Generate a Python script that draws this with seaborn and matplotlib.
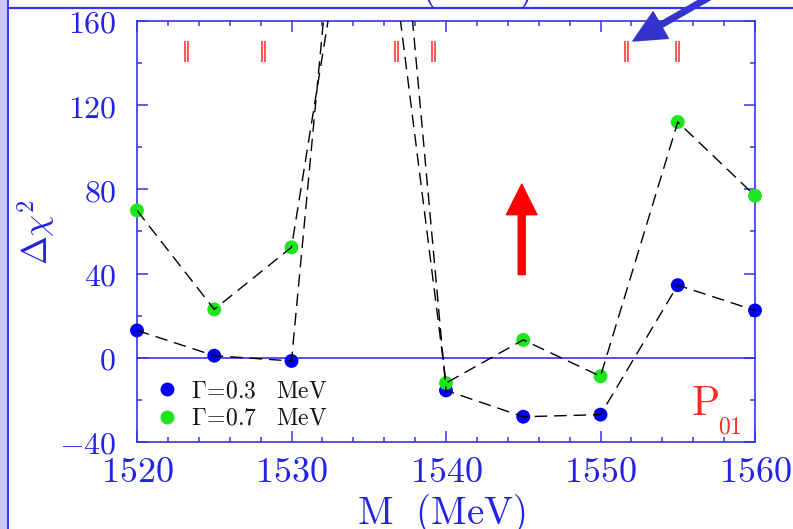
import numpy as np
import pandas as pd
import matplotlib
matplotlib.use("Agg")
import matplotlib.pyplot as plt
import matplotlib.transforms as mtransforms
from matplotlib.patches import FancyArrowPatch, Rectangle
from matplotlib.lines import Line2D
from matplotlib.ticker import MultipleLocator, FuncFormatter
import seaborn as sns

# ---------------- data ----------------
masses = [1520, 1525, 1530, 1535, 1540, 1545, 1550, 1555, 1560]
dchi2_w03 = [13, 1, -1.5, 390, -15.5, -28, -27, 34.5, 22.5]
dchi2_w07 = [70, 23, 52.5, 280, -12, 8.5, -8.8, 112, 77]
series_labels = [r"$\Gamma\!=\!0.3\ \ \ \mathrm{MeV}$", r"$\Gamma\!=\!0.7\ \ \ \mathrm{MeV}$"]
resonance_marks = [1523.2, 1528.2, 1536.8, 1539.2, 1551.7, 1555.0]
x_ticks = [1520, 1530, 1540, 1550, 1560]
y_ticks = [-40, 0, 40, 80, 120, 160]
x_label = r"$\mathrm{M\ \ (MeV)}$"
y_label = r"$\Delta\chi^2$"
wave_label = r"$\mathrm{P}$"
wave_sub = r"$\mathrm{01}$"

df = pd.DataFrame({
    "M": masses * 2,
    "dchi2": dchi2_w03 + dchi2_w07,
    "series": [series_labels[0]] * len(masses) + [series_labels[1]] * len(masses),
})

# ---------------- style ----------------
sns.set_theme(style="white")
plt.rcParams["mathtext.fontset"] = "cm"
plt.rcParams["font.family"] = ["DejaVu Serif"]

BLUE = "#2323e6"
SPINE = "#3434ee"
MBLUE = "#0000f0"
MGREEN = "#1ee61e"
RED = "#ff2a2a"

fig = plt.figure(figsize=(7.93, 5.29), dpi=100)
W, H = 793, 529
ax = fig.add_axes([137 / W, 1 - 442 / H, (755 - 137) / W, (442 - 21) / H])

# markers (below the dashed lines)
sns.scatterplot(data=df, x="M", y="dchi2", hue="series",
                palette={series_labels[0]: MBLUE, series_labels[1]: MGREEN},
                s=100, linewidth=0, ax=ax, zorder=3, clip_on=False)
# dashed connecting lines
for lab in series_labels:
    sns.lineplot(data=df[df["series"] == lab], x="M", y="dchi2", color="black",
                 lw=1.0, linestyle=(0, (9, 5)), ax=ax, zorder=4, legend=False,
                 estimator=None, sort=True)

ax.axhline(0, color=SPINE, lw=1.2, zorder=2)

# resonance marks (double red lines)
for dx in (-1.4, 1.4):
    tr = mtransforms.offset_copy(ax.transData, fig=fig, x=dx, y=0, units="dots")
    ax.vlines(resonance_marks, 140.3, 150.6, color=RED, lw=1.1, transform=tr, zorder=2)

# red arrow
arr = FancyArrowPatch((1544.9, 39.5), (1544.9, 82.5),
                      arrowstyle="simple,head_length=22,head_width=22,tail_width=5",
                      mutation_scale=1, color="#ff0000", shrinkA=0, shrinkB=0, zorder=5)
ax.add_patch(arr)

ax.set_xlim(1520, 1560)
ax.set_ylim(-40, 160)
ax.set_xticks(x_ticks)
ax.set_yticks(y_ticks)
ax.xaxis.set_minor_locator(MultipleLocator(2))
ax.yaxis.set_minor_locator(MultipleLocator(20))
fmt = FuncFormatter(lambda v, p: f"${int(round(v))}$")
ax.xaxis.set_major_formatter(fmt)
ax.yaxis.set_major_formatter(fmt)
ax.tick_params(axis="both", which="both", direction="in", colors=SPINE,
               top=True, right=True, bottom=True, left=True, width=1.1)
ax.tick_params(axis="both", which="major", length=8.2)
ax.tick_params(axis="both", which="minor", length=3.8)
ax.tick_params(axis="x", which="major", labelsize=26, pad=9, labelcolor=BLUE)
ax.tick_params(axis="y", which="major", labelsize=23, pad=15, labelcolor=BLUE)
for sp in ax.spines.values():
    sp.set_color(SPINE)
    sp.set_linewidth(1.2)
ax.set_xlabel("")
ax.set_ylabel("")
ax.grid(False)

# legend
handles, labels = ax.get_legend_handles_labels()
ax.legend(handles, labels, loc="center left", bbox_to_anchor=(0.032, 0.089),
          frameon=False, fontsize=17, handlelength=0.9, handletextpad=0.55,
          labelspacing=0.2, borderpad=0, borderaxespad=0, markerscale=1.0,
          labelcolor="#111111")

# wave label
fig.text(691 / W, 1 - 415 / H, wave_label, color=RED, fontsize=30, va="baseline", ha="left")
fig.text(718 / W, 1 - 433 / H, wave_sub, color=RED, fontsize=17, va="baseline", ha="left")

# axis labels
fig.text(441 / W, 1 - 524 / H, x_label, color=BLUE, fontsize=28, ha="center", va="baseline")
fig.text(36 / W, 1 - 232 / H, y_label, color=BLUE, fontsize=25, ha="center", va="center",
         rotation=90)

# slide decorations: top label (cut off), rule, left band
fig.text(447 / W, 1 + 1 / H, x_label, color=BLUE, fontsize=28, ha="center", va="baseline")
fig.add_artist(Line2D([8 / W, 1], [1 - 7.5 / H, 1 - 7.5 / H], transform=fig.transFigure,
                      color=SPINE, lw=1.6))
fig.add_artist(Rectangle((0, 0), 7 / W, 1, transform=fig.transFigure,
                         facecolor="#c8c8fa", edgecolor="none"))
fig.add_artist(Line2D([7.8 / W, 7.8 / W], [0, 1], transform=fig.transFigure,
                      color=SPINE, lw=1.4))

# blue arrow from top right
barr = FancyArrowPatch((748 / W, 1 + 25 / H), (633 / W, 1 - 41 / H),
                       transform=fig.transFigure,
                       arrowstyle="simple,head_length=23,head_width=22,tail_width=4",
                       mutation_scale=1, color="#3434cc", shrinkA=0, shrinkB=0)
fig.add_artist(barr)

fig.savefig("out.png", dpi=100)
